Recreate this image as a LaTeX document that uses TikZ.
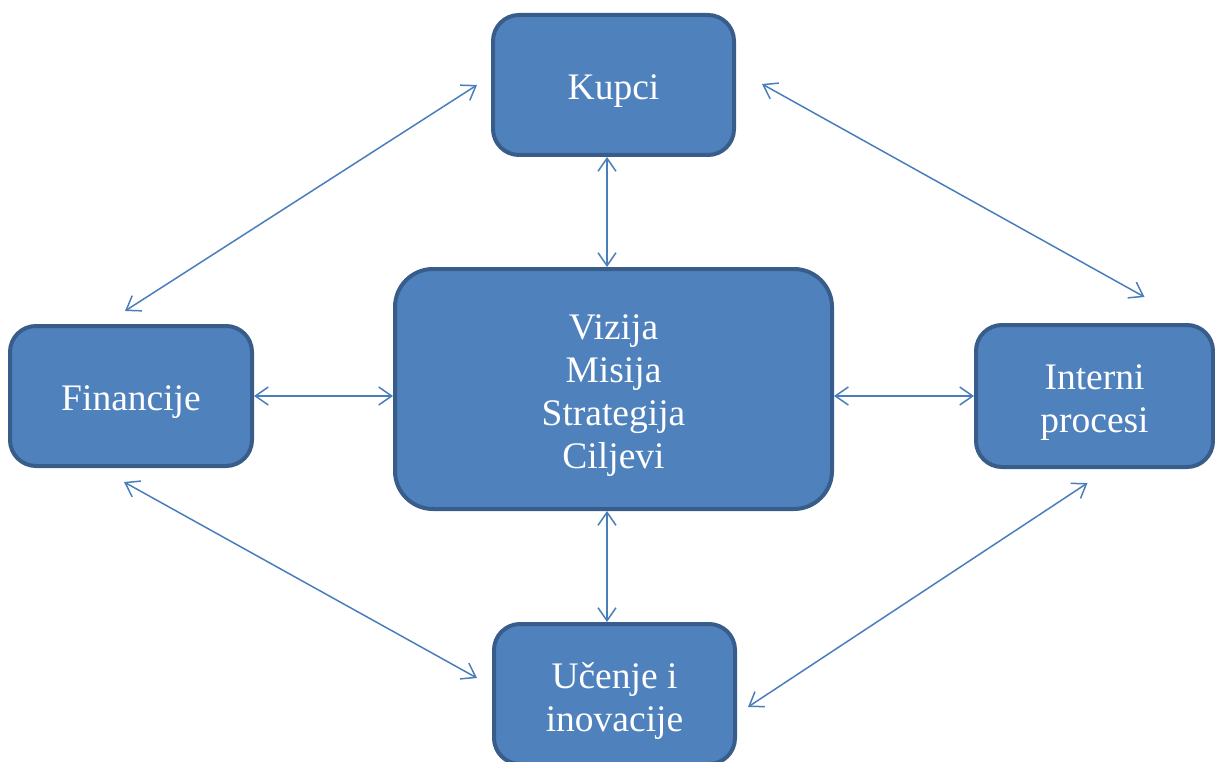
\documentclass[tikz,border=0pt]{standalone}
\usepackage{fontspec}
\setmainfont{Liberation Serif}
\usetikzlibrary{arrows.meta,calc}
\definecolor{boxfill}{HTML}{4F81BD}
\definecolor{boxline}{HTML}{385D8A}
\definecolor{arrcol}{HTML}{4A7EBB}
\begin{document}
\begin{tikzpicture}[x=1pt,y=-1pt,
  box/.style={draw=boxline, line width=4pt, fill=boxfill, rounded corners=26pt, inner sep=0pt},
  lbl/.style={text=white, align=center, font=\fontsize{37.5}{43}\selectfont, yshift=-6.5pt, inner sep=0pt},
  arr/.style={draw=arrcol, line width=1.5pt, {Straight Barb[length=13pt,width=18pt]}-{Straight Barb[length=13pt,width=18pt]}}]
\useasboundingbox (0,0) rectangle (1215,762);
\clip (0,0) rectangle (1215,762);
\node[box, minimum width=241pt, minimum height=140pt, label={[lbl]center:Kupci}] (kupci) at (613.5,85) {};
\node[box, minimum width=437pt, minimum height=240pt, rounded corners=38pt, label={[lbl]center:Vizija\\Misija\\Strategija\\Ciljevi}] (center) at (613.5,389) {};
\node[box, minimum width=242pt, minimum height=140pt, label={[lbl]center:Financije}] (fin) at (131,396) {};
\node[box, minimum width=237pt, minimum height=142pt, label={[lbl]center:Interni\\procesi}] (int) at (1094.5,396) {};
\node[box, minimum width=241pt, minimum height=140pt, label={[lbl]center:Učenje i\\inovacije}] (uc) at (614.5,694) {};
% straight connectors
\draw[arr] ([xshift=-6.5pt]kupci.south) -- ([xshift=-6.5pt]kupci.south |- center.north);
\draw[arr] ([xshift=-6.5pt]center.south) -- ([xshift=-6.5pt]center.south |- uc.north);
\draw[arr] (fin.east) -- (fin.east -| center.west);
\draw[arr] (int.west -| center.east) -- (int.west);
% diagonal connectors
\draw[arr] ($(fin.north)+(-6,-13)$) -- ($(kupci.west)+(-14,0)$);
\draw[arr] ($(kupci.east)+(26,-1)$) -- ($(int.north)+(50,-26)$);
\draw[arr] ($(fin.south)+(-7,14)$) -- ($(uc.west)+(-15,-16)$);
\draw[arr] ($(uc.east)+(11,13)$) -- ($(int.south)+(-7,14)$);
\end{tikzpicture}
\end{document}
